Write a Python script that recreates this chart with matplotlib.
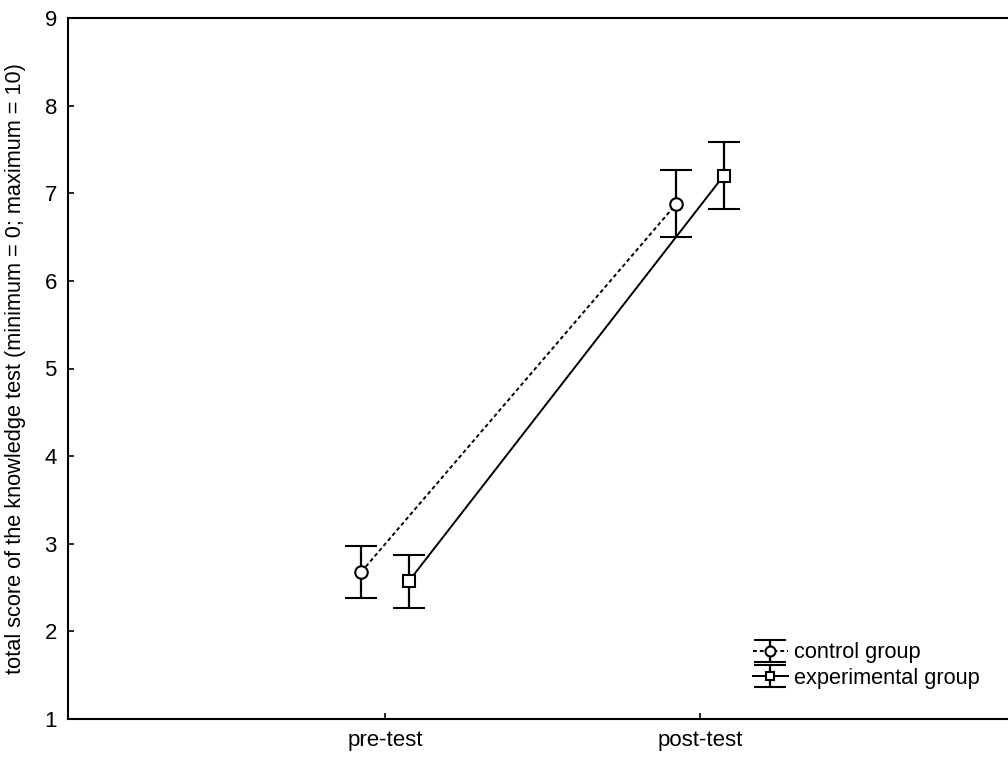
import numpy as np
import matplotlib
matplotlib.use("Agg")
import matplotlib.pyplot as plt

plt.rcParams['font.family'] = ['Liberation Sans', 'DejaVu Sans']

phases = ["pre-test", "post-test"]
control_mean = [2.68, 6.88]
control_err = [0.30, 0.38]
exp_mean = [2.57, 7.20]
exp_err = [0.30, 0.38]

fig = plt.figure(figsize=(10.08, 7.6), dpi=100)
ax = fig.add_axes([68/1008, 41/760, 940/1008, 701/760])

x = np.arange(len(phases))
off = 0.075
ax.errorbar(x - off, control_mean, yerr=control_err, color='black', ls='--', lw=1.4,
            elinewidth=1.6, capsize=11.5, capthick=1.6, marker='o', ms=9,
            mfc='white', mec='black', mew=1.5, dashes=(2, 1.5), label='control group')
ax.errorbar(x + off, exp_mean, yerr=exp_err, color='black', ls='-', lw=1.4,
            elinewidth=1.6, capsize=11.5, capthick=1.6, marker='s', ms=8,
            mfc='white', mec='black', mew=1.5, label='experimental group')

ax.set_xlim(-317/315, -317/315 + 940/315)
ax.set_ylim(1, 9)
ax.set_yticks(range(1, 10))
ax.set_xticks(x)
ax.set_xticklabels(phases)
ax.tick_params(direction='in', length=4, width=1.2, labelsize=16, pad=8)
ax.spines['right'].set_visible(False)
for s in ['left', 'bottom', 'top']:
    ax.spines[s].set_linewidth(1.5)
ax.set_ylabel("total score of the knowledge test (minimum = 0; maximum = 10)", fontsize=15.7)
ax.yaxis.set_label_coords(-42/940, 0.5)

ax.legend(loc='lower right', bbox_to_anchor=(0.991, 0.015), frameon=False, fontsize=15.7,
          handlelength=1.6, handletextpad=0.3, labelspacing=0.2, markerscale=0.8)

fig.savefig("out.png", dpi=100)
